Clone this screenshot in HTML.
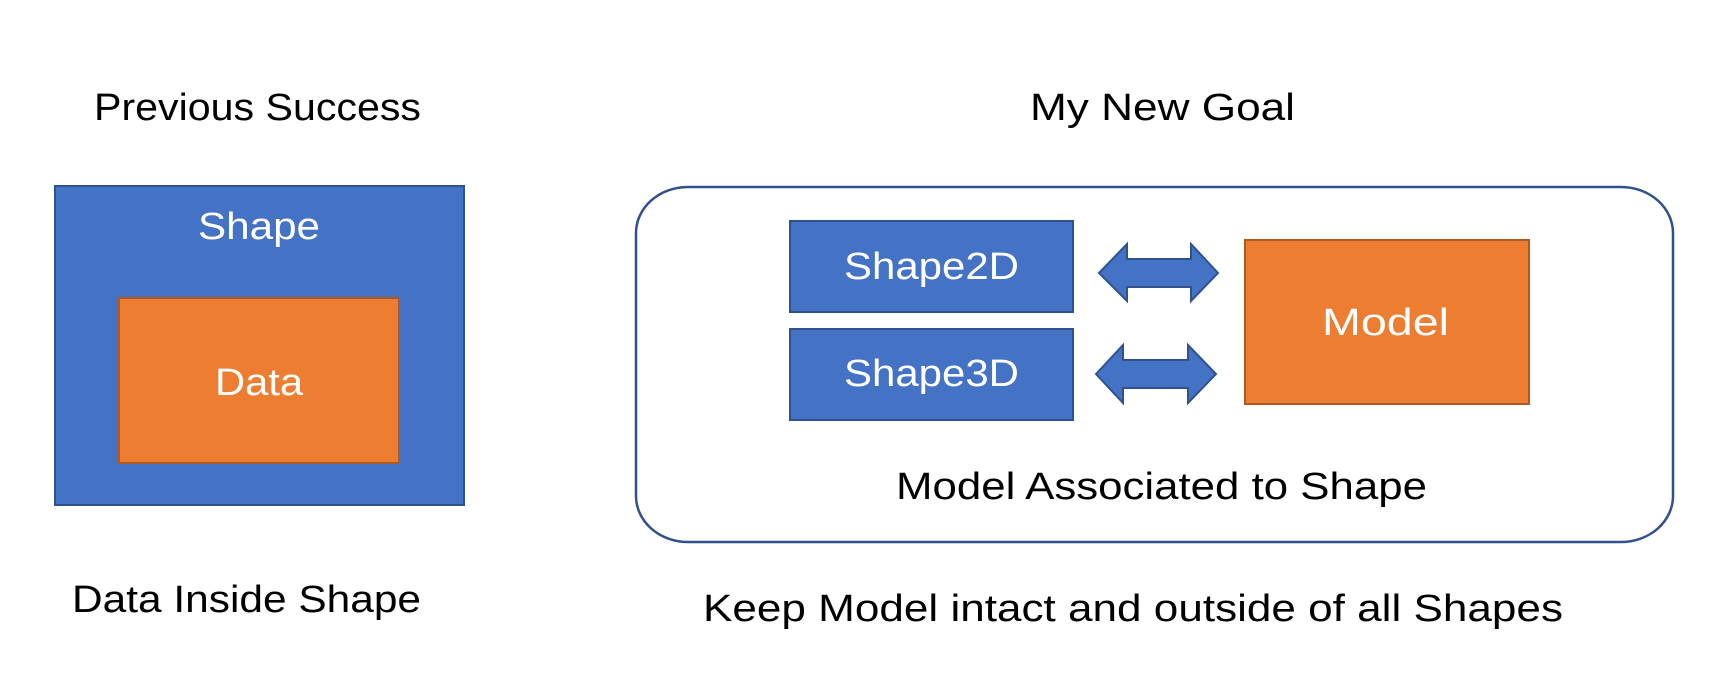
<!DOCTYPE html>
<html><head><meta charset="utf-8"><style>html,body{margin:0;padding:0;background:#fff;width:1728px;height:700px;overflow:hidden}</style></head>
<body>
<svg width="1728" height="700" viewBox="0 0 1728 700" xmlns="http://www.w3.org/2000/svg" font-family="Liberation Sans, sans-serif" font-size="38">
<rect x="0" y="0" width="1728" height="700" fill="#fff"/>
<text x="94" y="120" textLength="327" lengthAdjust="spacingAndGlyphs" fill="#000">Previous Success</text>
<text x="1030" y="120" textLength="265" lengthAdjust="spacingAndGlyphs" fill="#000">My New Goal</text>
<rect x="55" y="186" width="409" height="319" fill="#4472C4" stroke="#2F528F" stroke-width="2"/>
<text x="198" y="239" textLength="122" lengthAdjust="spacingAndGlyphs" fill="#fff">Shape</text>
<rect x="119" y="298" width="280" height="165" fill="#ED7D31" stroke="#AE5A21" stroke-width="2"/>
<text x="215" y="395" textLength="88" lengthAdjust="spacingAndGlyphs" fill="#fff">Data</text>
<rect x="636" y="187" width="1037" height="355" rx="52" ry="46" fill="#fff" stroke="#2F528F" stroke-width="2.5"/>
<rect x="790" y="221" width="283" height="91" fill="#4472C4" stroke="#2F528F" stroke-width="2"/>
<text x="844" y="279" textLength="175" lengthAdjust="spacingAndGlyphs" fill="#fff">Shape2D</text>
<rect x="790" y="329" width="283" height="91" fill="#4472C4" stroke="#2F528F" stroke-width="2"/>
<text x="844" y="386" textLength="175" lengthAdjust="spacingAndGlyphs" fill="#fff">Shape3D</text>
<rect x="1245" y="240" width="284" height="164" fill="#ED7D31" stroke="#AE5A21" stroke-width="2"/>
<text x="1322" y="335" textLength="127" lengthAdjust="spacingAndGlyphs" fill="#fff">Model</text>
<polygon points="1099,273 1127,244 1127,259 1191,259 1191,244 1218,273 1191,301 1191,287 1127,287 1127,301" fill="#4472C4" stroke="#2F528F" stroke-width="2"/>
<polygon points="1096,374 1123,345 1123,360 1188,360 1188,345 1216,374 1188,403 1188,388 1123,388 1123,403" fill="#4472C4" stroke="#2F528F" stroke-width="2"/>
<text x="896" y="499" textLength="531" lengthAdjust="spacingAndGlyphs" fill="#000">Model Associated to Shape</text>
<text x="72" y="612" textLength="349" lengthAdjust="spacingAndGlyphs" fill="#000">Data Inside Shape</text>
<text x="703" y="621" textLength="860" lengthAdjust="spacingAndGlyphs" fill="#000">Keep Model intact and outside of all Shapes</text>
</svg>
</body></html>
